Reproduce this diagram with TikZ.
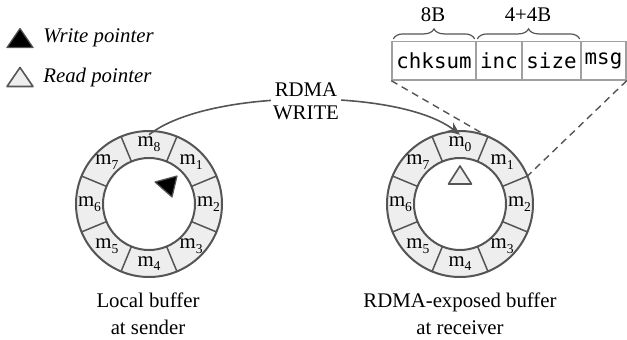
\documentclass[tikz,border=0pt]{standalone}
\usepackage{fontspec}
\setmainfont{Liberation Serif}
\setmonofont{DejaVu Sans Mono}
\usetikzlibrary{calc,decorations.pathreplacing,arrows.meta}
\definecolor{ringc}{HTML}{555555}
\definecolor{cellc}{HTML}{EEEEEE}
\definecolor{boxc}{HTML}{A0A0A0}
\newcommand{\mlab}[1]{m\raisebox{-0.5ex}{\fontsize{6.8}{6.8}\selectfont #1}}
\begin{document}
\begin{tikzpicture}[x=0.5pt,y=0.5pt,font=\fontsize{10.4}{11.5}\selectfont,
  cellbox/.style={draw=boxc,line width=0.7pt,minimum height=19.2pt,inner sep=0pt,font=\fontsize{10.4}{12}\selectfont\ttfamily},
  ringline/.style={draw=ringc,line width=1pt},
  divline/.style={draw=ringc,line width=0.75pt},
  mlabel/.style={inner sep=1pt},
  captext/.style={align=center,font=\fontsize{10.4}{13.3}\selectfont}]
\useasboundingbox (0,0) rectangle (627,339);
% rings
\coordinate (L) at (149,135);
\coordinate (R) at (460,135);
\foreach \c in {L,R}{
  \fill[cellc,even odd rule] (\c) circle[radius=36.5pt] (\c) circle[radius=23pt];
  \foreach \a in {22.5,67.5,...,337.5}
    \draw[divline] ($(\c)+(\a:23pt)$) -- ($(\c)+(\a:36.5pt)$);
  \draw[ringline] (\c) circle[radius=36.5pt] (\c) circle[radius=23pt];
}
% labels
\node[mlabel] (Lm8) at ($(L)+(90:29.75pt)$) {\mlab{8}};
\node[mlabel] (Rm0) at ($(R)+(90:29.75pt)$) {\mlab{0}};
\foreach \k in {1,...,7}{
  \node[mlabel] (Lm\k) at ($(L)+(90-45*\k:29.75pt)$) {\mlab{\k}};
  \node[mlabel] (Rm\k) at ($(R)+(90-45*\k:29.75pt)$) {\mlab{\k}};
}
% pointers
\draw[ringc,fill=black,line width=0.6pt,line join=round] (155,157) -- (177,163) -- (172,142) -- cycle;
\draw[ringc,fill=cellc,line width=0.8pt,line join=round] (448.5,155) -- (471.5,155) -- (460,173) -- cycle;
% legend
\draw[ringc,fill=black,line width=0.6pt,line join=round] (7,291.5) -- (33,291.5) -- (20,310.5) -- cycle;
\draw[ringc,fill=cellc,line width=0.8pt,line join=round] (7,252.5) -- (33,252.5) -- (20,271.5) -- cycle;
\node[anchor=west,inner sep=0pt] (lw) at (43,301) {\itshape Write pointer};
\node[anchor=west,inner sep=0pt] (lr) at (43,262) {\itshape Read pointer};
% packet box
\node[cellbox,minimum width=42pt] (chk) at (434,278.2) {chksum};
\node[cellbox,minimum width=23pt] (inc) at (499,278.2) {inc};
\node[cellbox,minimum width=29.5pt] (size) at (551.5,278.2) {size};
\node[cellbox,minimum width=22.5pt] (msg) at (603.5,278.2) {msg};
\draw[ringc,line width=0.6pt,decorate,decoration={brace,amplitude=5pt}]
  ([xshift=1pt,yshift=1pt]chk.north west) -- ([xshift=-1pt,yshift=1pt]chk.north east);
\draw[ringc,line width=0.6pt,decorate,decoration={brace,amplitude=5pt}]
  ([xshift=1pt,yshift=1pt]inc.north west) -- ([xshift=-1pt,yshift=1pt]size.north east);
\node (b8) at (433,324) {8B};
\node (b44) at (528,324) {4+4B};
% dashed zoom lines
\coordinate (z1) at ($(R)+(67.5:36.5pt)$);
\coordinate (z2) at ($(R)+(22.5:36.5pt)$);
\draw[ringc,line width=0.7pt,dash pattern=on 3.5pt off 2.5pt] (chk.south west) -- (z1);
\draw[ringc,line width=0.7pt,dash pattern=on 3.5pt off 2.5pt] (msg.south east) -- (z2);
% RDMA write arrow
\draw[ringc,line width=0.8pt,-{Stealth[length=6.5pt,width=5.5pt]}]
  (Lm8.north) .. controls (208,251) and (400,251) .. (Rm0.north);
\node[fill=white,align=center,inner sep=1pt] (rdma) at (306,237.5) {RDMA\\WRITE};
% captions
\node[captext] (lcap) at (148,25) {Local buffer\\at sender};
\node[captext] (rcap) at (460,25) {RDMA-exposed buffer\\at receiver};
\end{tikzpicture}
\end{document}
